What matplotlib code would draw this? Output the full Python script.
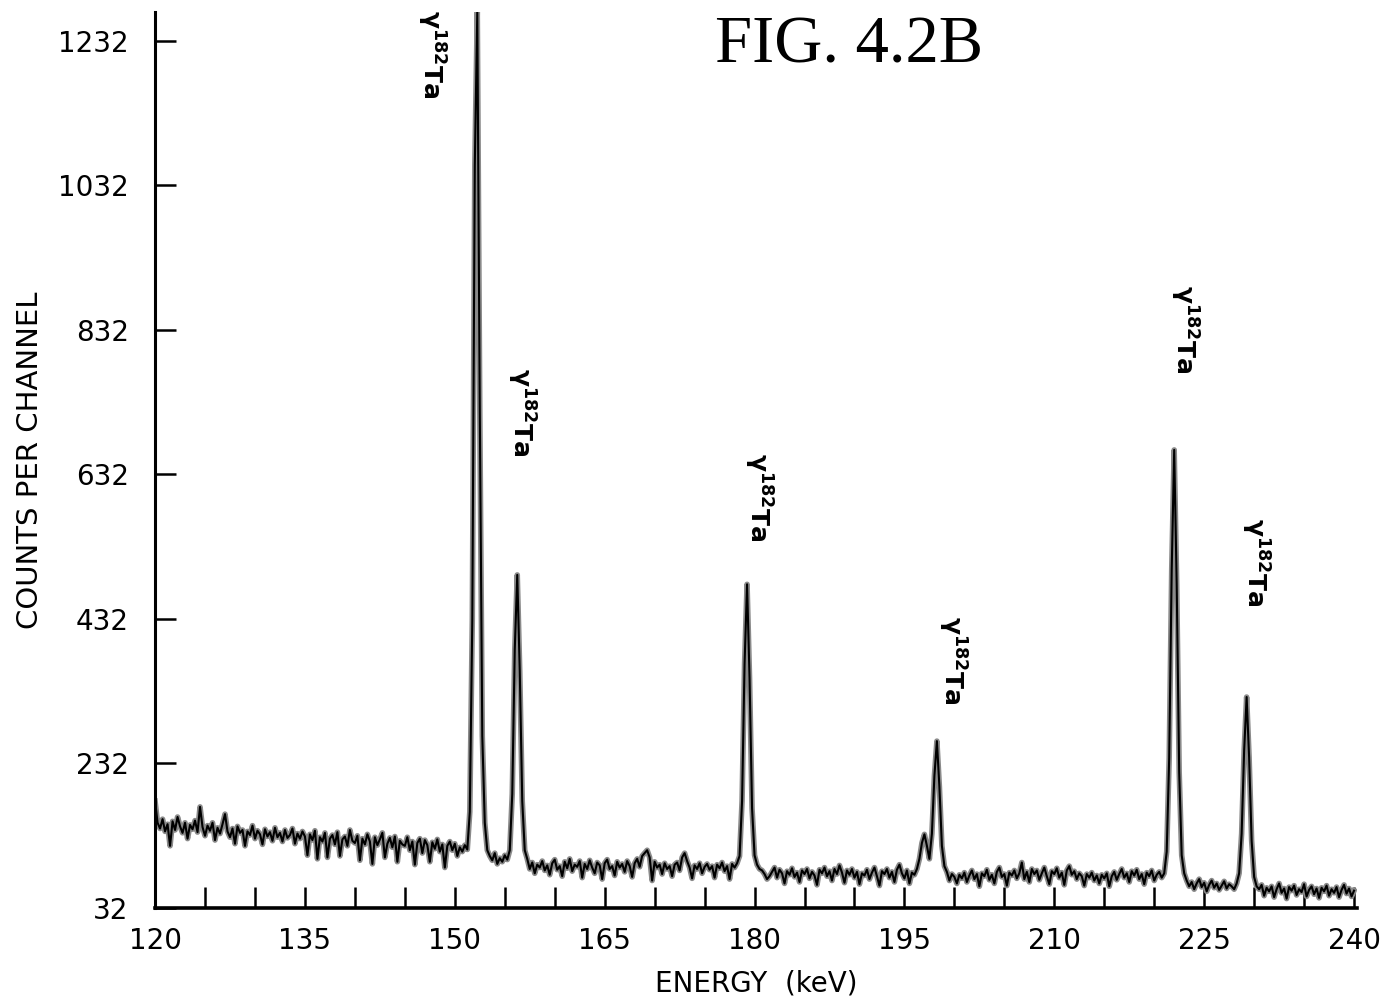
import numpy as np
import matplotlib
matplotlib.use("Agg")
import matplotlib.pyplot as plt

# ---------------- data (counts per 0.25 keV channel) ----------------
step = 0.25
seg_120_1515 = [180, 150, 142, 155, 138, 148, 118, 152, 140, 158,
                145, 136, 150, 128, 147, 141, 153, 137, 172, 144,
                132, 146, 139, 150, 126, 143, 135, 148, 162, 138,
                130, 142, 121, 145, 136, 140, 118, 138, 133, 146,
                128, 139, 134, 120, 141, 131, 137, 125, 143, 130,
                136, 124, 140, 129, 133, 142, 121, 135, 128, 138,
                131, 105, 134, 126, 139, 100, 130, 124, 136, 102,
                128, 133, 120, 137, 104, 127, 131, 118, 140, 125,
                122, 132, 98, 128, 120, 134, 124, 93, 130, 119,
                127, 136, 102, 121, 129, 116, 131, 96, 125, 120,
                118, 130, 112, 124, 92, 122, 128, 108, 126, 119,
                96, 123, 114, 127, 110, 120, 88, 118, 124, 112,
                121, 104, 116, 110, 119, 113, 165]
peak_152 = [430, 1060, 1272, 720, 270, 150, 112]
seg_1535_1555 = [104, 98, 108, 93, 101, 96, 105, 99, 112]
peak_156 = [190, 390, 493, 360, 180, 112]
seg_15725_1785 = [100, 86, 95, 80, 92, 88, 97, 84, 91, 78,
                  94, 99, 85, 90, 76, 96, 87, 100, 83, 92,
                  89, 97, 74, 93, 86, 98, 88, 80, 95, 91,
                  72, 94, 99, 86, 90, 77, 96, 88, 93, 82,
                  97, 90, 75, 94, 100, 89, 104, 108, 112, 102,
                  70, 96, 88, 92, 79, 94, 86, 90, 76, 92,
                  95, 84, 102, 108, 97, 88, 73, 91, 86, 94,
                  80, 89, 93, 85, 90, 74, 92, 87, 95, 83,
                  90, 72, 93, 88, 94, 104]
peak_179 = [180, 370, 480, 350, 170, 105, 92]
seg_1805_19625 = [86, 84, 79, 72, 76, 82, 88, 74, 85, 80,
                  66, 83, 78, 87, 75, 81, 68, 84, 79, 86,
                  73, 82, 77, 64, 85, 80, 88, 76, 83, 70,
                  86, 79, 91, 81, 67, 84, 78, 86, 74, 82,
                  65, 80, 77, 85, 72, 81, 88, 76, 63, 83,
                  79, 86, 74, 82, 68, 85, 92, 80, 73, 84,
                  66, 81, 78, 86]
peak_198 = [100, 122, 134, 118, 100, 135, 215, 263, 200, 118, 90, 82]
seg_1995_221 = [70, 79, 75, 66, 78, 73, 81, 68, 77, 84,
                72, 79, 62, 80, 76, 85, 71, 78, 66, 82,
                88, 75, 79, 63, 81, 77, 84, 73, 80, 95,
                72, 82, 68, 86, 79, 84, 71, 80, 88, 76,
                65, 83, 79, 87, 74, 81, 64, 84, 90, 78,
                83, 72, 80, 76, 63, 79, 74, 81, 70, 77,
                66, 78, 73, 80, 62, 76, 82, 71, 79, 86,
                74, 80, 68, 83, 77, 85, 72, 79, 65, 81,
                76, 84, 70, 78, 82, 74, 80]
peak_222 = [110, 240, 500, 666, 480, 220, 105, 80]
seg_22325_22825 = [70, 62, 68, 58, 66, 72, 61, 67, 55, 64,
                   70, 60, 66, 57, 63, 69, 59, 65, 62, 58,
                   66]
peak_229 = [80, 135, 250, 324, 240, 125, 75, 62]
seg_2305_240 = [58, 64, 49, 60, 55, 62, 47, 58, 66, 53,
                59, 45, 61, 56, 63, 50, 58, 54, 65, 48,
                57, 62, 51, 59, 46, 60, 55, 63, 49, 58,
                53, 61, 47, 57, 64, 52, 59, 48, 56]

counts = np.array(seg_120_1515 + peak_152 + seg_1535_1555 + peak_156 +
                  seg_15725_1785 + peak_179 + seg_1805_19625 + peak_198 +
                  seg_1995_221 + peak_222 + seg_22325_22825 + peak_229 +
                  seg_2305_240, dtype=float)
energy = 120 + step * np.arange(len(counts))

x_major = [120, 135, 150, 165, 180, 195, 210, 225, 240]
x_minor_step = 5
y_ticks = [32, 232, 432, 632, 832, 1032, 1232]

label_text = r"γ$^{\mathbf{182}}$Ta"
label_x = [147.6, 156.6, 180.4, 199.8, 223.0, 230.1]
label_y = [1213, 718, 601, 375, 833, 511]

# ---------------- figure ----------------
fig = plt.figure(figsize=(13.87, 10.02), dpi=100)
ax = fig.add_axes([0.1118, 0.0938, 0.8666, 0.8942])

ax.plot(energy, counts, color="#8a8a8a", lw=4.0, solid_joinstyle="round", zorder=2)
ax.plot(energy, counts, color="black", lw=1.5, zorder=3)

ax.set_xlim(120, 240.3)
ax.set_ylim(32, 1272)

for s in ["top", "right"]:
    ax.spines[s].set_visible(False)
ax.spines["left"].set_linewidth(2.2)
ax.spines["bottom"].set_linewidth(2.6)

ax.set_xticks(np.arange(120, 241, x_minor_step), minor=True)
ax.set_xticks(x_major)
ax.set_xticklabels([str(v) for v in x_major])
ax.set_yticks(y_ticks)
ax.set_yticklabels([str(v) for v in y_ticks])
ax.tick_params(axis="both", which="both", direction="in", length=15, width=1.8,
               labelsize=20)
ax.tick_params(axis="x", which="major", pad=14)
ax.tick_params(axis="y", which="major", pad=19)

ax.set_xlabel("ENERGY  (keV)", fontsize=20, labelpad=10)
ax.set_ylabel("COUNTS PER CHANNEL", fontsize=21, labelpad=10)

for lx, ly in zip(label_x, label_y):
    ax.text(lx, ly, label_text, rotation=270, ha="center", va="center",
            fontsize=18, fontweight="bold")

fig.text(0.612, 0.985, "FIG. 4.2B", fontsize=48, family="Liberation Serif",
         ha="center", va="top")

fig.savefig("out.png", dpi=100)
